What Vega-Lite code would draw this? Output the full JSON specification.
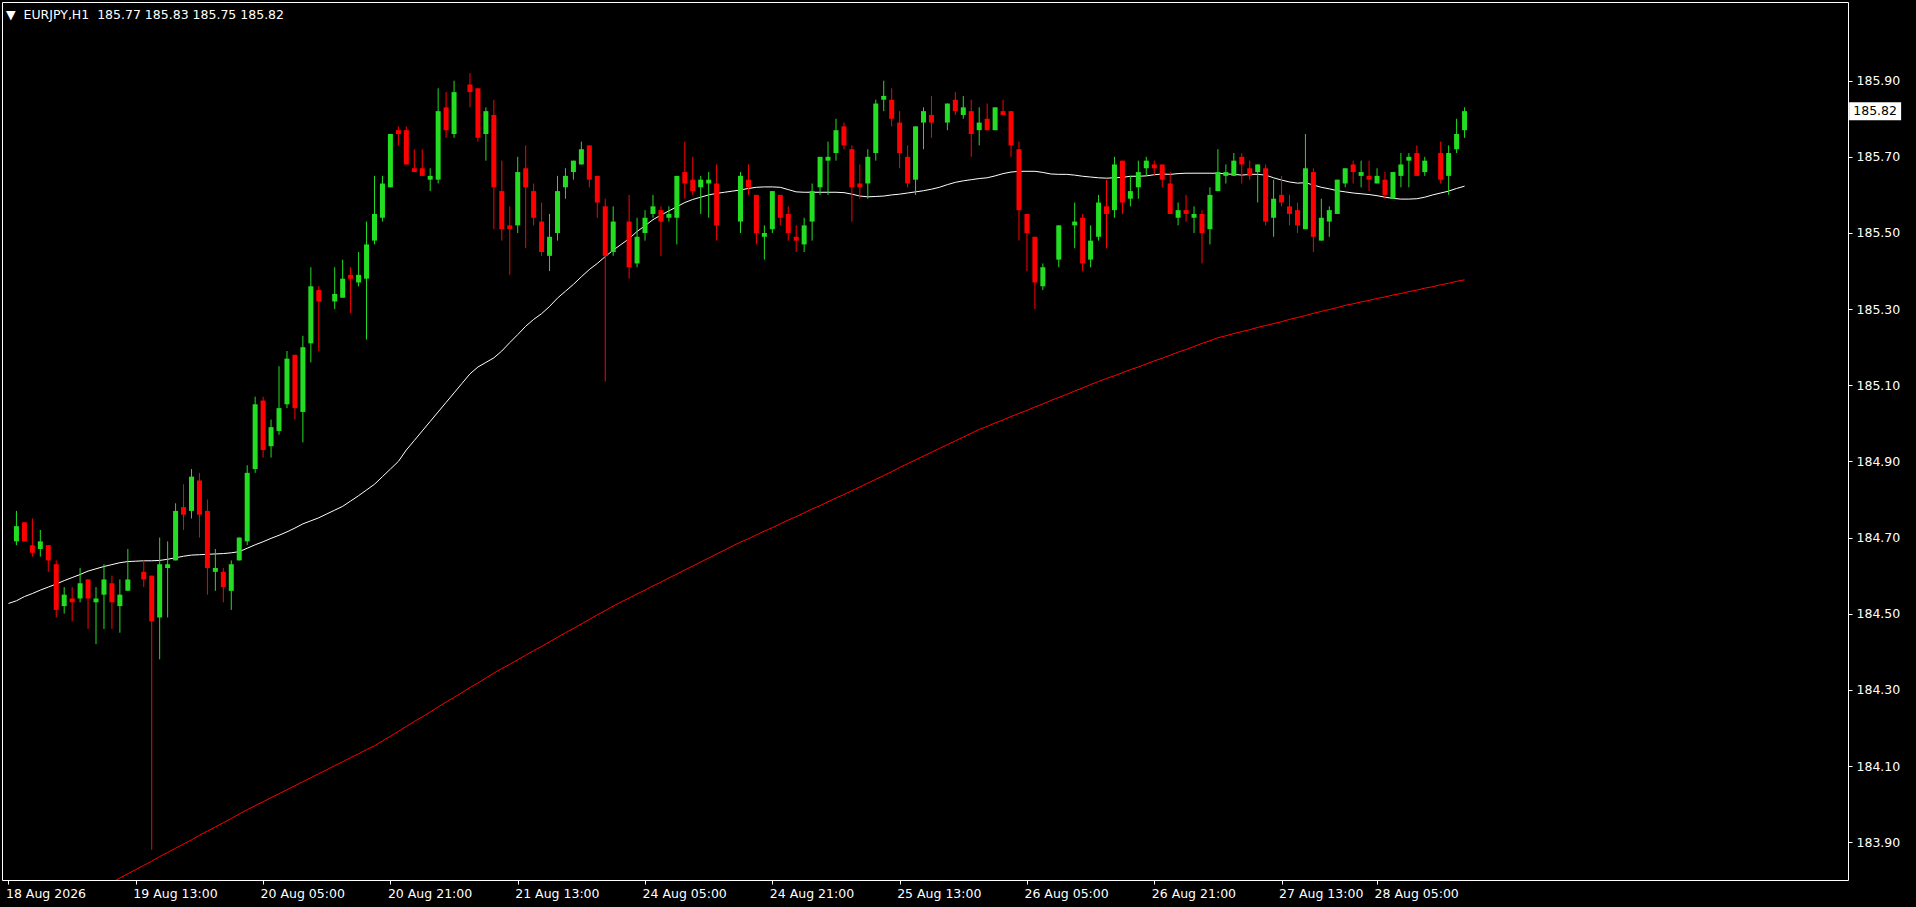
{
"$schema": "https://vega.github.io/schema/vega-lite/v6.json",
"width": 1846, "height": 878,
"autosize": {"type": "none"},
"padding": {"left": 2, "top": 2, "right": 68, "bottom": 27},
"background": "#000000",
"config": {
 "view": {"stroke": "#ffffff", "strokeWidth": 1, "fill": "#000000"},
 "axis": {"labelColor": "#ffffff", "tickColor": "#ffffff", "domain": false, "grid": false, "labelFont": "DejaVu Sans", "labelFontSize": 12.5, "title": null, "tickSize": 4, "labelOverlap": false, "labelFlush": false, "labelBound": false}
},
"title": {"text": "▼\u00a0\u00a0EURJPY,H1\u00a0\u00a0185.77 185.83 185.75 185.82", "anchor": "start", "frame": "group", "orient": "top", "offset": -25, "baseline": "middle", "dx": 4, "color": "#ffffff", "font": "DejaVu Sans", "fontSize": 12.5, "fontWeight": "normal"},
"data": {"values": [
{"i":-1,"m1":184.527,"m2":183.649},
{"i":0,"o":184.69,"h":184.77,"l":184.68,"c":184.73,"m1":184.534,"m2":183.660},
{"i":1,"o":184.74,"h":184.74,"l":184.69,"c":184.69,"m1":184.545,"m2":183.671},
{"i":2,"o":184.68,"h":184.75,"l":184.65,"c":184.66,"m1":184.553,"m2":183.682},
{"i":3,"o":184.67,"h":184.72,"l":184.65,"c":184.69,"m1":184.562,"m2":183.694},
{"i":4,"o":184.68,"h":184.68,"l":184.61,"c":184.64,"m1":184.570,"m2":183.705},
{"i":5,"o":184.63,"h":184.64,"l":184.49,"c":184.51,"m1":184.578,"m2":183.716},
{"i":6,"o":184.52,"h":184.57,"l":184.50,"c":184.55,"m1":184.587,"m2":183.727},
{"i":7,"o":184.54,"h":184.57,"l":184.48,"c":184.53,"m1":184.595,"m2":183.738},
{"i":8,"o":184.54,"h":184.62,"l":184.53,"c":184.58,"m1":184.603,"m2":183.750},
{"i":9,"o":184.59,"h":184.59,"l":184.46,"c":184.54,"m1":184.612,"m2":183.761},
{"i":10,"o":184.53,"h":184.57,"l":184.42,"c":184.54,"m1":184.618,"m2":183.772},
{"i":11,"o":184.55,"h":184.63,"l":184.46,"c":184.59,"m1":184.624,"m2":183.783},
{"i":12,"o":184.58,"h":184.60,"l":184.46,"c":184.53,"m1":184.629,"m2":183.794},
{"i":13,"o":184.52,"h":184.59,"l":184.45,"c":184.55,"m1":184.634,"m2":183.806},
{"i":14,"o":184.56,"h":184.67,"l":184.56,"c":184.59,"m1":184.637,"m2":183.817},
{"i":15,"o":184.64,"h":184.65,"l":184.63,"c":184.64,"m1":184.638,"m2":183.828},
{"i":16,"o":184.61,"h":184.64,"l":184.57,"c":184.59,"m1":184.639,"m2":183.839},
{"i":17,"o":184.60,"h":184.60,"l":183.88,"c":184.48,"m1":184.639,"m2":183.850},
{"i":18,"o":184.49,"h":184.70,"l":184.38,"c":184.63,"m1":184.640,"m2":183.862},
{"i":19,"o":184.62,"h":184.69,"l":184.49,"c":184.63,"m1":184.643,"m2":183.873},
{"i":20,"o":184.64,"h":184.79,"l":184.64,"c":184.77,"m1":184.647,"m2":183.884},
{"i":21,"o":184.78,"h":184.84,"l":184.72,"c":184.76,"m1":184.651,"m2":183.895},
{"i":22,"o":184.77,"h":184.88,"l":184.75,"c":184.86,"m1":184.654,"m2":183.906},
{"i":23,"o":184.85,"h":184.87,"l":184.70,"c":184.76,"m1":184.655,"m2":183.918},
{"i":24,"o":184.77,"h":184.80,"l":184.55,"c":184.62,"m1":184.656,"m2":183.929},
{"i":25,"o":184.61,"h":184.67,"l":184.56,"c":184.62,"m1":184.657,"m2":183.940},
{"i":26,"o":184.61,"h":184.62,"l":184.53,"c":184.57,"m1":184.658,"m2":183.951},
{"i":27,"o":184.56,"h":184.64,"l":184.51,"c":184.63,"m1":184.660,"m2":183.962},
{"i":28,"o":184.64,"h":184.70,"l":184.64,"c":184.70,"m1":184.663,"m2":183.974},
{"i":29,"o":184.69,"h":184.89,"l":184.68,"c":184.87,"m1":184.672,"m2":183.985},
{"i":30,"o":184.88,"h":185.07,"l":184.87,"c":185.05,"m1":184.681,"m2":183.996},
{"i":31,"o":185.06,"h":185.07,"l":184.91,"c":184.93,"m1":184.689,"m2":184.006},
{"i":32,"o":184.94,"h":185.01,"l":184.91,"c":184.99,"m1":184.698,"m2":184.017},
{"i":33,"o":184.98,"h":185.15,"l":184.97,"c":185.04,"m1":184.706,"m2":184.027},
{"i":34,"o":185.05,"h":185.19,"l":185.04,"c":185.17,"m1":184.715,"m2":184.038},
{"i":35,"o":185.18,"h":185.18,"l":185.01,"c":185.04,"m1":184.725,"m2":184.048},
{"i":36,"o":185.03,"h":185.23,"l":184.95,"c":185.20,"m1":184.736,"m2":184.059},
{"i":37,"o":185.21,"h":185.41,"l":185.16,"c":185.36,"m1":184.744,"m2":184.069},
{"i":38,"o":185.35,"h":185.36,"l":185.19,"c":185.32,"m1":184.752,"m2":184.080},
{"i":39,"o":185.33,"h":185.36,"l":185.30,"c":185.33,"m1":184.762,"m2":184.090},
{"i":40,"o":185.32,"h":185.41,"l":185.30,"c":185.34,"m1":184.772,"m2":184.101},
{"i":41,"o":185.33,"h":185.43,"l":185.33,"c":185.38,"m1":184.782,"m2":184.111},
{"i":42,"o":185.39,"h":185.41,"l":185.29,"c":185.38,"m1":184.796,"m2":184.122},
{"i":43,"o":185.37,"h":185.45,"l":185.36,"c":185.39,"m1":184.810,"m2":184.132},
{"i":44,"o":185.38,"h":185.53,"l":185.22,"c":185.47,"m1":184.825,"m2":184.143},
{"i":45,"o":185.48,"h":185.65,"l":185.47,"c":185.55,"m1":184.840,"m2":184.153},
{"i":46,"o":185.54,"h":185.65,"l":185.53,"c":185.63,"m1":184.860,"m2":184.166},
{"i":47,"o":185.62,"h":185.76,"l":185.62,"c":185.76,"m1":184.880,"m2":184.178},
{"i":48,"o":185.77,"h":185.78,"l":185.73,"c":185.76,"m1":184.900,"m2":184.191},
{"i":49,"o":185.77,"h":185.78,"l":185.68,"c":185.68,"m1":184.930,"m2":184.204},
{"i":50,"o":185.67,"h":185.72,"l":185.66,"c":185.66,"m1":184.955,"m2":184.217},
{"i":51,"o":185.67,"h":185.72,"l":185.65,"c":185.65,"m1":184.980,"m2":184.229},
{"i":52,"o":185.64,"h":185.67,"l":185.61,"c":185.65,"m1":185.005,"m2":184.242},
{"i":53,"o":185.64,"h":185.88,"l":185.63,"c":185.82,"m1":185.030,"m2":184.255},
{"i":54,"o":185.83,"h":185.87,"l":185.75,"c":185.77,"m1":185.055,"m2":184.268},
{"i":55,"o":185.76,"h":185.90,"l":185.75,"c":185.87,"m1":185.080,"m2":184.280},
{"i":56,"o":185.86,"h":185.90,"l":185.82,"c":185.86,"m1":185.105,"m2":184.293},
{"i":57,"o":185.89,"h":185.92,"l":185.83,"c":185.87,"m1":185.130,"m2":184.306},
{"i":58,"o":185.88,"h":185.88,"l":185.74,"c":185.75,"m1":185.148,"m2":184.318},
{"i":59,"o":185.76,"h":185.83,"l":185.69,"c":185.82,"m1":185.160,"m2":184.331},
{"i":60,"o":185.81,"h":185.85,"l":185.51,"c":185.62,"m1":185.172,"m2":184.344},
{"i":61,"o":185.61,"h":185.69,"l":185.48,"c":185.51,"m1":185.190,"m2":184.356},
{"i":62,"o":185.52,"h":185.57,"l":185.39,"c":185.51,"m1":185.212,"m2":184.367},
{"i":63,"o":185.52,"h":185.70,"l":185.50,"c":185.66,"m1":185.233,"m2":184.379},
{"i":64,"o":185.67,"h":185.73,"l":185.46,"c":185.62,"m1":185.255,"m2":184.391},
{"i":65,"o":185.61,"h":185.63,"l":185.52,"c":185.54,"m1":185.273,"m2":184.403},
{"i":66,"o":185.53,"h":185.58,"l":185.44,"c":185.45,"m1":185.288,"m2":184.414},
{"i":67,"o":185.44,"h":185.55,"l":185.40,"c":185.49,"m1":185.307,"m2":184.426},
{"i":68,"o":185.50,"h":185.65,"l":185.48,"c":185.61,"m1":185.329,"m2":184.438},
{"i":69,"o":185.62,"h":185.67,"l":185.59,"c":185.65,"m1":185.347,"m2":184.450},
{"i":70,"o":185.66,"h":185.69,"l":185.64,"c":185.69,"m1":185.365,"m2":184.461},
{"i":71,"o":185.68,"h":185.74,"l":185.68,"c":185.72,"m1":185.385,"m2":184.473},
{"i":72,"o":185.73,"h":185.73,"l":185.62,"c":185.64,"m1":185.404,"m2":184.485},
{"i":73,"o":185.65,"h":185.65,"l":185.54,"c":185.58,"m1":185.420,"m2":184.497},
{"i":74,"o":185.57,"h":185.59,"l":185.11,"c":185.44,"m1":185.438,"m2":184.508},
{"i":75,"o":185.45,"h":185.57,"l":185.44,"c":185.53,"m1":185.455,"m2":184.520},
{"i":76,"o":185.53,"h":185.56,"l":185.49,"c":185.53,"m1":185.470,"m2":184.531},
{"i":77,"o":185.53,"h":185.60,"l":185.38,"c":185.41,"m1":185.485,"m2":184.541},
{"i":78,"o":185.42,"h":185.54,"l":185.41,"c":185.49,"m1":185.504,"m2":184.552},
{"i":79,"o":185.50,"h":185.56,"l":185.48,"c":185.54,"m1":185.519,"m2":184.562},
{"i":80,"o":185.55,"h":185.60,"l":185.54,"c":185.57,"m1":185.535,"m2":184.573},
{"i":81,"o":185.56,"h":185.57,"l":185.44,"c":185.53,"m1":185.547,"m2":184.583},
{"i":82,"o":185.54,"h":185.57,"l":185.53,"c":185.55,"m1":185.558,"m2":184.594},
{"i":83,"o":185.54,"h":185.65,"l":185.47,"c":185.65,"m1":185.569,"m2":184.604},
{"i":84,"o":185.66,"h":185.74,"l":185.59,"c":185.63,"m1":185.580,"m2":184.615},
{"i":85,"o":185.64,"h":185.70,"l":185.60,"c":185.61,"m1":185.588,"m2":184.625},
{"i":86,"o":185.62,"h":185.65,"l":185.55,"c":185.64,"m1":185.594,"m2":184.636},
{"i":87,"o":185.63,"h":185.66,"l":185.54,"c":185.64,"m1":185.600,"m2":184.646},
{"i":88,"o":185.63,"h":185.68,"l":185.48,"c":185.52,"m1":185.604,"m2":184.657},
{"i":89,"o":185.52,"h":185.55,"l":185.49,"c":185.52,"m1":185.607,"m2":184.667},
{"i":90,"o":185.52,"h":185.54,"l":185.50,"c":185.52,"m1":185.610,"m2":184.678},
{"i":91,"o":185.53,"h":185.66,"l":185.50,"c":185.65,"m1":185.613,"m2":184.688},
{"i":92,"o":185.64,"h":185.68,"l":185.60,"c":185.62,"m1":185.617,"m2":184.697},
{"i":93,"o":185.60,"h":185.60,"l":185.47,"c":185.50,"m1":185.620,"m2":184.707},
{"i":94,"o":185.49,"h":185.52,"l":185.43,"c":185.50,"m1":185.621,"m2":184.717},
{"i":95,"o":185.51,"h":185.61,"l":185.50,"c":185.61,"m1":185.621,"m2":184.726},
{"i":96,"o":185.60,"h":185.60,"l":185.52,"c":185.54,"m1":185.620,"m2":184.736},
{"i":97,"o":185.55,"h":185.57,"l":185.48,"c":185.50,"m1":185.614,"m2":184.746},
{"i":98,"o":185.49,"h":185.52,"l":185.45,"c":185.48,"m1":185.608,"m2":184.755},
{"i":99,"o":185.47,"h":185.54,"l":185.45,"c":185.52,"m1":185.607,"m2":184.765},
{"i":100,"o":185.53,"h":185.63,"l":185.48,"c":185.61,"m1":185.607,"m2":184.775},
{"i":101,"o":185.62,"h":185.70,"l":185.60,"c":185.70,"m1":185.607,"m2":184.784},
{"i":102,"o":185.69,"h":185.74,"l":185.60,"c":185.70,"m1":185.607,"m2":184.794},
{"i":103,"o":185.71,"h":185.80,"l":185.69,"c":185.77,"m1":185.607,"m2":184.804},
{"i":104,"o":185.78,"h":185.79,"l":185.72,"c":185.73,"m1":185.606,"m2":184.813},
{"i":105,"o":185.72,"h":185.73,"l":185.53,"c":185.62,"m1":185.602,"m2":184.823},
{"i":106,"o":185.63,"h":185.68,"l":185.59,"c":185.62,"m1":185.597,"m2":184.833},
{"i":107,"o":185.63,"h":185.72,"l":185.59,"c":185.70,"m1":185.595,"m2":184.843},
{"i":108,"o":185.71,"h":185.85,"l":185.69,"c":185.84,"m1":185.596,"m2":184.853},
{"i":109,"o":185.85,"h":185.90,"l":185.82,"c":185.86,"m1":185.597,"m2":184.863},
{"i":110,"o":185.85,"h":185.88,"l":185.78,"c":185.80,"m1":185.600,"m2":184.873},
{"i":111,"o":185.79,"h":185.82,"l":185.67,"c":185.71,"m1":185.602,"m2":184.884},
{"i":112,"o":185.70,"h":185.73,"l":185.62,"c":185.63,"m1":185.605,"m2":184.894},
{"i":113,"o":185.64,"h":185.78,"l":185.60,"c":185.78,"m1":185.608,"m2":184.904},
{"i":114,"o":185.79,"h":185.83,"l":185.72,"c":185.82,"m1":185.611,"m2":184.914},
{"i":115,"o":185.81,"h":185.86,"l":185.75,"c":185.79,"m1":185.615,"m2":184.924},
{"i":116,"o":185.79,"h":185.82,"l":185.77,"c":185.79,"m1":185.620,"m2":184.934},
{"i":117,"o":185.79,"h":185.84,"l":185.77,"c":185.84,"m1":185.627,"m2":184.944},
{"i":118,"o":185.85,"h":185.87,"l":185.81,"c":185.82,"m1":185.633,"m2":184.954},
{"i":119,"o":185.81,"h":185.86,"l":185.80,"c":185.83,"m1":185.637,"m2":184.964},
{"i":120,"o":185.82,"h":185.85,"l":185.70,"c":185.76,"m1":185.640,"m2":184.974},
{"i":121,"o":185.77,"h":185.83,"l":185.73,"c":185.79,"m1":185.643,"m2":184.984},
{"i":122,"o":185.80,"h":185.84,"l":185.77,"c":185.77,"m1":185.645,"m2":184.992},
{"i":123,"o":185.77,"h":185.83,"l":185.77,"c":185.83,"m1":185.650,"m2":185.001},
{"i":124,"o":185.82,"h":185.85,"l":185.81,"c":185.81,"m1":185.656,"m2":185.009},
{"i":125,"o":185.82,"h":185.82,"l":185.70,"c":185.73,"m1":185.660,"m2":185.018},
{"i":126,"o":185.72,"h":185.74,"l":185.48,"c":185.56,"m1":185.662,"m2":185.026},
{"i":127,"o":185.55,"h":185.55,"l":185.40,"c":185.50,"m1":185.662,"m2":185.034},
{"i":128,"o":185.49,"h":185.49,"l":185.30,"c":185.37,"m1":185.662,"m2":185.043},
{"i":129,"o":185.36,"h":185.42,"l":185.35,"c":185.41,"m1":185.659,"m2":185.051},
{"i":130,"o":185.42,"h":185.45,"l":185.40,"c":185.42,"m1":185.655,"m2":185.060},
{"i":131,"o":185.43,"h":185.52,"l":185.41,"c":185.52,"m1":185.654,"m2":185.068},
{"i":132,"o":185.52,"h":185.55,"l":185.50,"c":185.52,"m1":185.654,"m2":185.076},
{"i":133,"o":185.52,"h":185.58,"l":185.46,"c":185.53,"m1":185.652,"m2":185.085},
{"i":134,"o":185.54,"h":185.55,"l":185.40,"c":185.42,"m1":185.649,"m2":185.093},
{"i":135,"o":185.43,"h":185.52,"l":185.41,"c":185.48,"m1":185.647,"m2":185.102},
{"i":136,"o":185.49,"h":185.60,"l":185.48,"c":185.58,"m1":185.645,"m2":185.110},
{"i":137,"o":185.57,"h":185.64,"l":185.46,"c":185.55,"m1":185.644,"m2":185.118},
{"i":138,"o":185.56,"h":185.70,"l":185.54,"c":185.68,"m1":185.645,"m2":185.125},
{"i":139,"o":185.69,"h":185.69,"l":185.55,"c":185.58,"m1":185.646,"m2":185.133},
{"i":140,"o":185.59,"h":185.65,"l":185.57,"c":185.61,"m1":185.649,"m2":185.141},
{"i":141,"o":185.62,"h":185.69,"l":185.59,"c":185.66,"m1":185.649,"m2":185.148},
{"i":142,"o":185.67,"h":185.70,"l":185.65,"c":185.69,"m1":185.650,"m2":185.156},
{"i":143,"o":185.68,"h":185.69,"l":185.65,"c":185.67,"m1":185.653,"m2":185.164},
{"i":144,"o":185.68,"h":185.68,"l":185.62,"c":185.64,"m1":185.655,"m2":185.171},
{"i":145,"o":185.63,"h":185.66,"l":185.55,"c":185.55,"m1":185.654,"m2":185.179},
{"i":146,"o":185.54,"h":185.58,"l":185.52,"c":185.56,"m1":185.656,"m2":185.187},
{"i":147,"o":185.56,"h":185.60,"l":185.53,"c":185.55,"m1":185.657,"m2":185.194},
{"i":148,"o":185.54,"h":185.57,"l":185.50,"c":185.55,"m1":185.657,"m2":185.202},
{"i":149,"o":185.55,"h":185.56,"l":185.42,"c":185.50,"m1":185.657,"m2":185.210},
{"i":150,"o":185.51,"h":185.62,"l":185.47,"c":185.60,"m1":185.657,"m2":185.217},
{"i":151,"o":185.61,"h":185.72,"l":185.61,"c":185.66,"m1":185.657,"m2":185.225},
{"i":152,"o":185.65,"h":185.68,"l":185.63,"c":185.66,"m1":185.655,"m2":185.230},
{"i":153,"o":185.65,"h":185.71,"l":185.65,"c":185.69,"m1":185.654,"m2":185.236},
{"i":154,"o":185.70,"h":185.71,"l":185.63,"c":185.68,"m1":185.652,"m2":185.241},
{"i":155,"o":185.67,"h":185.69,"l":185.64,"c":185.65,"m1":185.654,"m2":185.246},
{"i":156,"o":185.66,"h":185.68,"l":185.58,"c":185.68,"m1":185.654,"m2":185.252},
{"i":157,"o":185.67,"h":185.68,"l":185.52,"c":185.53,"m1":185.652,"m2":185.257},
{"i":158,"o":185.54,"h":185.64,"l":185.49,"c":185.59,"m1":185.645,"m2":185.262},
{"i":159,"o":185.60,"h":185.65,"l":185.57,"c":185.58,"m1":185.639,"m2":185.267},
{"i":160,"o":185.57,"h":185.60,"l":185.52,"c":185.55,"m1":185.634,"m2":185.273},
{"i":161,"o":185.56,"h":185.58,"l":185.50,"c":185.52,"m1":185.631,"m2":185.278},
{"i":162,"o":185.51,"h":185.76,"l":185.51,"c":185.67,"m1":185.632,"m2":185.283},
{"i":163,"o":185.66,"h":185.67,"l":185.45,"c":185.49,"m1":185.626,"m2":185.289},
{"i":164,"o":185.48,"h":185.59,"l":185.48,"c":185.54,"m1":185.620,"m2":185.294},
{"i":165,"o":185.53,"h":185.57,"l":185.49,"c":185.56,"m1":185.616,"m2":185.299},
{"i":166,"o":185.55,"h":185.64,"l":185.55,"c":185.64,"m1":185.611,"m2":185.304},
{"i":167,"o":185.63,"h":185.67,"l":185.62,"c":185.67,"m1":185.608,"m2":185.310},
{"i":168,"o":185.68,"h":185.69,"l":185.63,"c":185.66,"m1":185.605,"m2":185.314},
{"i":169,"o":185.65,"h":185.69,"l":185.62,"c":185.66,"m1":185.603,"m2":185.319},
{"i":170,"o":185.65,"h":185.69,"l":185.61,"c":185.64,"m1":185.601,"m2":185.323},
{"i":171,"o":185.63,"h":185.67,"l":185.63,"c":185.65,"m1":185.598,"m2":185.328},
{"i":172,"o":185.64,"h":185.66,"l":185.59,"c":185.60,"m1":185.594,"m2":185.332},
{"i":173,"o":185.59,"h":185.66,"l":185.59,"c":185.66,"m1":185.591,"m2":185.337},
{"i":174,"o":185.65,"h":185.71,"l":185.62,"c":185.68,"m1":185.589,"m2":185.341},
{"i":175,"o":185.69,"h":185.71,"l":185.62,"c":185.70,"m1":185.589,"m2":185.346},
{"i":176,"o":185.71,"h":185.73,"l":185.65,"c":185.65,"m1":185.590,"m2":185.350},
{"i":177,"o":185.66,"h":185.70,"l":185.65,"c":185.69,"m1":185.594,"m2":185.355},
{"i":178,"o":185.70,"h":185.72,"l":185.68,"c":185.70,"m1":185.600,"m2":185.359},
{"i":179,"o":185.71,"h":185.74,"l":185.63,"c":185.64,"m1":185.605,"m2":185.364},
{"i":180,"o":185.65,"h":185.73,"l":185.60,"c":185.71,"m1":185.610,"m2":185.368},
{"i":181,"o":185.72,"h":185.80,"l":185.71,"c":185.76,"m1":185.617,"m2":185.373},
{"i":182,"o":185.77,"h":185.83,"l":185.75,"c":185.82,"m1":185.623,"m2":185.377}
]},
"encoding": {
 "x": {"field": "i", "type": "quantitative", "scale": {"domain": [-1.1875, 229.5625], "nice": false, "zero": false},
  "axis": {"values": [-1, 15, 31, 47, 63, 79, 95, 111, 127, 143, 159, 171], "labelAlign": "left", "labelBaseline": "top", "labelPadding": 3, "labelOffset": -3,
   "labelExpr": "datum.value == -1 ? '18 Aug 2026' : datum.value == 15 ? '19 Aug 13:00' : datum.value == 31 ? '20 Aug 05:00' : datum.value == 47 ? '20 Aug 21:00' : datum.value == 63 ? '21 Aug 13:00' : datum.value == 79 ? '24 Aug 05:00' : datum.value == 95 ? '24 Aug 21:00' : datum.value == 111 ? '25 Aug 13:00' : datum.value == 127 ? '26 Aug 05:00' : datum.value == 143 ? '26 Aug 21:00' : datum.value == 159 ? '27 Aug 13:00' : '28 Aug 05:00'"}}
},
"layer": [
 {"mark": {"type": "line", "color": "#ff0000", "strokeWidth": 1, "clip": true},
  "encoding": {"y": {"field": "m2", "type": "quantitative", "scale": {"domain": [183.8006, 186.1067], "nice": false, "zero": false},
   "axis": {"orient": "right", "values": [183.9, 184.1, 184.3, 184.5, 184.7, 184.9, 185.1, 185.3, 185.5, 185.7, 185.9], "format": ".2f", "labelPadding": 4}}}},
 {"mark": {"type": "line", "color": "#ffffff", "strokeWidth": 1, "clip": true},
  "encoding": {"y": {"field": "m1", "type": "quantitative"}}},
 {"transform": [{"filter": "isValid(datum.o)"}],
  "mark": {"type": "rule", "strokeWidth": 1},
  "encoding": {"y": {"field": "l", "type": "quantitative"}, "y2": {"field": "h"},
   "color": {"condition": [{"test": "datum.c > datum.o", "value": "#22dd22"}, {"test": "datum.c < datum.o", "value": "#ff0000"}], "value": "rgba(0,0,0,0)"}}},
 {"transform": [{"filter": "isValid(datum.o)"}],
  "mark": {"type": "bar", "size": 5},
  "encoding": {"y": {"field": "o", "type": "quantitative"}, "y2": {"field": "c"},
   "color": {"condition": [{"test": "datum.c > datum.o", "value": "#22dd22"}, {"test": "datum.c < datum.o", "value": "#ff0000"}], "value": "rgba(0,0,0,0)"}}},
 {"transform": [{"filter": "datum.i == 182"}],
  "mark": {"type": "tick", "orient": "horizontal", "size": 52, "thickness": 18, "color": "#ffffff", "opacity": 1, "clip": false},
  "encoding": {"x": {"datum": 233.6}, "y": {"field": "c", "type": "quantitative"}}},
 {"transform": [{"filter": "datum.i == 182"}],
  "mark": {"type": "text", "color": "#000000", "font": "DejaVu Sans", "fontSize": 12.5, "clip": false},
  "encoding": {"x": {"datum": 233.6}, "y": {"field": "c", "type": "quantitative"}, "text": {"field": "c", "type": "quantitative", "format": ".2f"}}}
]
}
